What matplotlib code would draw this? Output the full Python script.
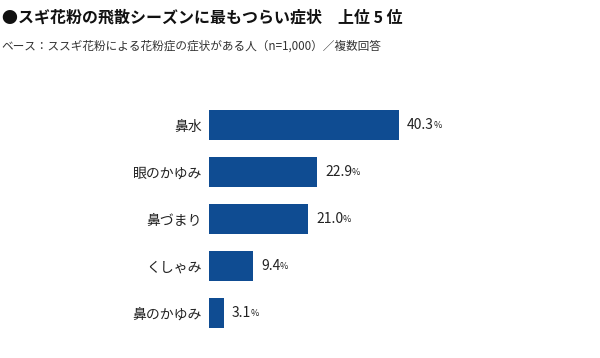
import matplotlib
matplotlib.use("Agg")
import matplotlib.pyplot as plt

plt.rcParams['font.family'] = ['Noto Sans CJK JP', 'DejaVu Sans']

categories = ["鼻水", "眼のかゆみ", "鼻づまり", "くしゃみ", "鼻のかゆみ"]
values = [40.3, 22.9, 21.0, 9.4, 3.1]
value_labels = ["40.3", "22.9", "21.0", "9.4", "3.1"]

title = "●スギ花粉の飛散シーズンに最もつらい症状　上位 5 位"
subtitle = "ベース：ススギ花粉による花粉症の症状がある人（n=1,000）／複数回答"

bar_color = "#0f4c92"

fig = plt.figure(figsize=(6, 3.58), dpi=100)
ax = fig.add_axes([209 / 600, 1 - 336.5 / 358, 235.6 / 600, 235 / 358])

y = list(range(len(categories)))
ax.barh(y, values, height=0.64, color=bar_color)
ax.set_xlim(0, 50)
ax.set_ylim(4.5, -0.5)

ax.set_yticks(y)
ax.set_yticklabels(categories, fontsize=10, color="#222222")
ax.tick_params(axis='y', length=0, pad=5)
ax.set_xticks([])
for s in ax.spines.values():
    s.set_visible(False)

for yi, v, lab in zip(y, values, value_labels):
    t = ax.annotate(lab, xy=(v, yi), xytext=(6, 0), textcoords="offset points",
                    ha="left", va="center", fontsize=10, color="#222222")
    ax.annotate("%", xy=(1, 0), xycoords=t, xytext=(-0.6, 1.5), textcoords="offset points",
                ha="left", va="bottom", fontsize=6.5, color="#222222")

fig.text(2 / 600, 1 - 18 / 358, title, fontsize=11.5, fontweight="bold",
         ha="left", va="center", color="#111111")
fig.text(1 / 600, 1 - 46 / 358, subtitle, fontsize=8.4,
         ha="left", va="center", color="#333333")

fig.savefig("out.png", dpi=100)
